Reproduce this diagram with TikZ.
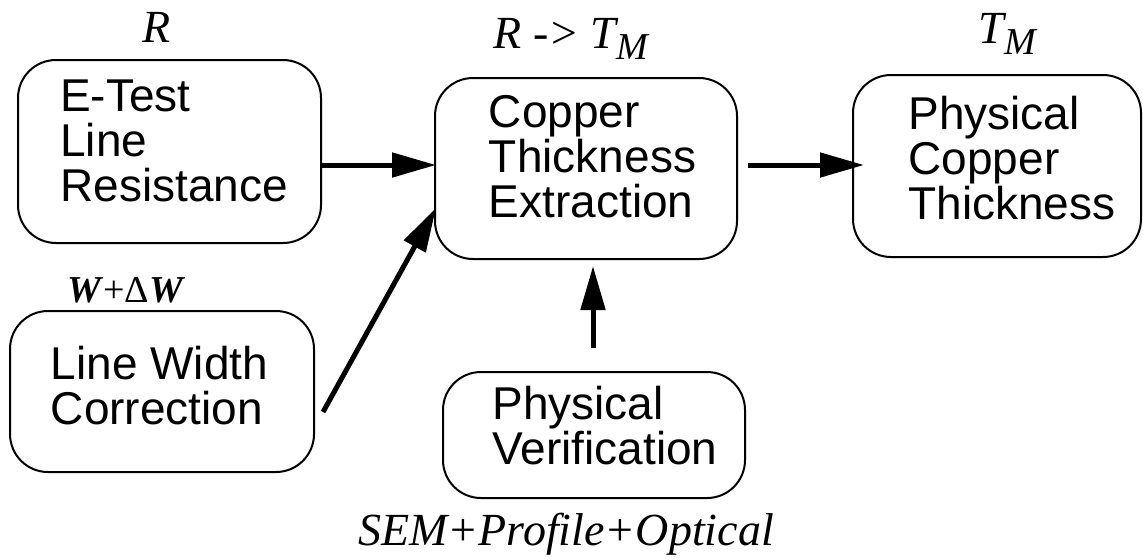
\documentclass[tikz,border=0pt]{standalone}
\usepackage{fontspec}
\setmainfont{Liberation Serif}
\setsansfont{Liberation Sans}
\usetikzlibrary{arrows.meta}

\newcommand{\subM}{\raisebox{-0.26em}{\fontsize{19pt}{19pt}\selectfont M}}

\tikzset{
  stage/.style={draw, line width=1pt, rounded corners=19pt, inner sep=0pt},
  stagetext/.style={align=left, inner sep=0pt, font=\sffamily\fontsize{23pt}{22.5pt}\selectfont},
  flow/.style={line width=2.5pt, -{Triangle[length=22pt,width=12pt]}},
  tag/.style={font=\itshape\fontsize{23pt}{23pt}\selectfont, inner sep=0pt, anchor=base},
}

\begin{document}
\begin{tikzpicture}[x=0.5pt, y=-0.5pt]
        \useasboundingbox (0,0) rectangle (1143,559);

        % Stages
        \node[stage, minimum width=151.5pt, minimum height=91.5pt] (etest) at (169.5,151.5) {};
        \node[stage, minimum width=151pt, minimum height=90.5pt] (extract) at (586,168.5) {};
        \node[stage, minimum width=144pt, minimum height=91pt] (physcu) at (997,166) {};
        \node[stage, minimum width=152pt, minimum height=80.5pt] (lwcorr) at (162,391.5) {};
        \node[stage, minimum width=151pt, minimum height=63pt] (physver) at (594,435) {};

        % Stage texts
        \node[stagetext] (etestT) at ([shift={(4.5,-11)}]etest.center) {E-Test\\Line\\Resistance};
        \node[stagetext] (extractT) at ([shift={(6.5,-11.5)}]extract.center) {Copper\\Thickness\\Extraction};
        \node[stagetext] (physcuT) at ([shift={(15,-8)}]physcu.center) {Physical\\Copper\\Thickness};
        \node[stagetext] (lwcorrT) at ([shift={(-2.5,-6)}]lwcorr.center) {Line Width\\Correction};
        \node[stagetext] (physverT) at ([shift={(11,-9.5)}]physver.center) {Physical\\Verification};

        % Labels
        \node[tag] (rlab) at (157,42) {R};
        \node[tag, anchor=base west] (rtlab) at (493,48) {R -> T\subM};
        \node[tag, anchor=base west] (tlab) at (978,43) {T\subM};
        \node[tag, anchor=base west, font=\fontsize{19pt}{19pt}\selectfont] (wlab) at (67,302)
            {\textbf{\textit{W}}+Δ\textbf{\textit{W}}};
        \node[tag] (slab) at (566,545) {SEM+Profile+Optical};

        % Flow
        \coordinate (inR) at ([shift={(2,-3.5)}]extract.west);
        \draw[flow] (etest.east |- inR) -- (inR);
        \coordinate (outT) at ([shift={(10,-3.5)}]extract.east);
        \coordinate (inT) at ([shift={(12,0)}]physcu.west);
        \draw[flow] (outT) -- (outT -| inT);
        \draw[flow] ([shift={(8,20.5)}]lwcorr.east) -- ([shift={(2,39.5)}]extract.west);
        \coordinate (upV) at ([shift={(-1,-23)}]physver.north);
        \coordinate (inV) at ([shift={(0,6)}]extract.south);
        \draw[flow] (upV) -- (upV |- inV);
    \end{tikzpicture}
\end{document}
